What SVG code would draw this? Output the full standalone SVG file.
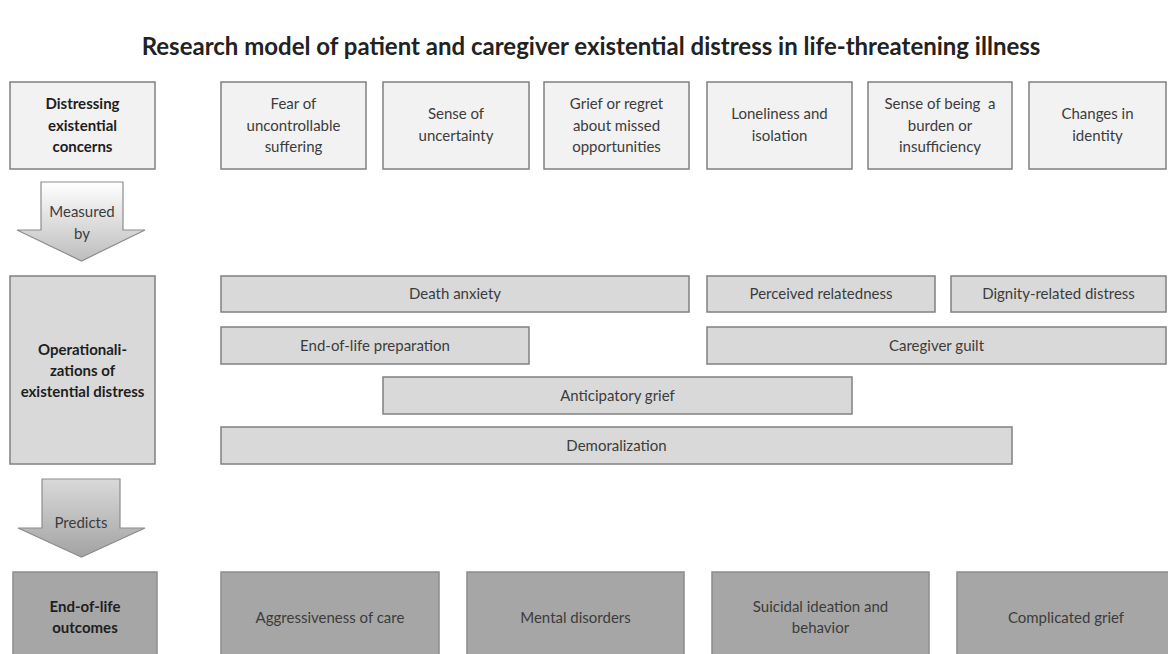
<svg xmlns="http://www.w3.org/2000/svg" width="1168" height="654" viewBox="0 0 1168 654">
<style>
text{font-family:Lato,"Liberation Sans",sans-serif;text-anchor:middle;font-size:15px;fill:#3c3c3c}
.title{font-size:24px;font-weight:bold;fill:#222}
.hd{font-weight:bold;fill:#1e1e1e}
.top{fill:#f2f2f2;stroke:#808080;stroke-width:1.5}
.mid{fill:#d9d9d9;stroke:#808080;stroke-width:1.5}
.bot{fill:#a6a6a6;stroke:#8c8c8c;stroke-width:1.5}
.arr{stroke:#8c8c8c;stroke-width:1.2}
.pre{white-space:pre}
</style>
<defs>
<linearGradient id="g1" x1="0" y1="0" x2="0" y2="1"><stop offset="0" stop-color="#ffffff"/><stop offset="1" stop-color="#bdbdbd"/></linearGradient>
<linearGradient id="g2" x1="0" y1="0" x2="0" y2="1"><stop offset="0" stop-color="#d9d9d9"/><stop offset="1" stop-color="#a3a3a3"/></linearGradient>
</defs>
<rect width="1168" height="654" fill="#ffffff"/>
<text class="title" x="591" y="55">Research model of patient and caregiver existential distress in life-threatening illness</text>

<g id="n-distressing"><rect class="top" x="10" y="82" width="145" height="87"/><text class="hd" x="82.5" y="109">Distressing</text><text class="hd" x="82.5" y="131">existential</text><text class="hd" x="82.5" y="152">concerns</text></g>
<g id="n-fear"><rect class="top" x="221" y="82" width="145" height="87"/><text x="293.5" y="109">Fear of</text><text x="293.5" y="131">uncontrollable</text><text x="293.5" y="152">suffering</text></g>
<g id="n-uncertainty"><rect class="top" x="383" y="82" width="146" height="87"/><text x="456" y="119">Sense of</text><text x="456" y="141">uncertainty</text></g>
<g id="n-grief"><rect class="top" x="544" y="82" width="145" height="87"/><text x="616.5" y="109">Grief or regret</text><text x="616.5" y="131">about missed</text><text x="616.5" y="152">opportunities</text></g>
<g id="n-loneliness"><rect class="top" x="707" y="82" width="145" height="87"/><text x="779.5" y="119">Loneliness and</text><text x="779.5" y="141">isolation</text></g>
<g id="n-burden"><rect class="top" x="868" y="82" width="144" height="87"/><text class="pre" x="940" y="109">Sense of being  a</text><text x="940" y="131">burden or</text><text x="940" y="152">insufficiency</text></g>
<g id="n-identity"><rect class="top" x="1029" y="82" width="137" height="87"/><text x="1097.5" y="119">Changes in</text><text x="1097.5" y="141">identity</text></g>

<g id="connectors">
<g id="arrow-measured"><polygon class="arr" fill="url(#g1)" points="41,182 123,182 123,230 145,230 81.5,261 17,230 41,230"/><text x="82" y="217">Measured</text><text x="82" y="239">by</text></g>
<g id="arrow-predicts"><polygon class="arr" fill="url(#g2)" points="42,479 120,479 120,528 145,528 81.5,557 18,528 42,528"/><text x="81" y="528">Predicts</text></g>
</g>

<g id="n-operational"><rect class="mid" x="10" y="276" width="145" height="188"/><text class="hd" x="82.5" y="355">Operationali-</text><text class="hd" x="82.5" y="376">zations of</text><text class="hd" x="82.5" y="397">existential distress</text></g>
<g id="n-death"><rect class="mid" x="221" y="276" width="468" height="36"/><text x="455" y="299">Death anxiety</text></g>
<g id="n-related"><rect class="mid" x="707" y="276" width="228" height="36"/><text x="821" y="299">Perceived relatedness</text></g>
<g id="n-dignity"><rect class="mid" x="951" y="276" width="215" height="36"/><text x="1058.5" y="299">Dignity-related distress</text></g>
<g id="n-eol"><rect class="mid" x="221" y="327" width="308" height="37"/><text x="375" y="351">End-of-life preparation</text></g>
<g id="n-guilt"><rect class="mid" x="707" y="327" width="459" height="37"/><text x="936.5" y="351">Caregiver guilt</text></g>
<g id="n-anticip"><rect class="mid" x="383" y="377" width="469" height="37"/><text x="617.5" y="401">Anticipatory grief</text></g>
<g id="n-demoral"><rect class="mid" x="221" y="427" width="791" height="37"/><text x="616.5" y="451">Demoralization</text></g>

<g id="n-outcomes"><rect class="bot" x="13" y="572" width="144" height="90"/><text class="hd" x="85" y="612">End-of-life</text><text class="hd" x="85" y="633">outcomes</text></g>
<g id="n-aggr"><rect class="bot" x="221" y="572" width="218" height="90"/><text x="330" y="623">Aggressiveness of care</text></g>
<g id="n-mental"><rect class="bot" x="467" y="572" width="217" height="90"/><text x="575.5" y="623">Mental disorders</text></g>
<g id="n-suicidal"><rect class="bot" x="712" y="572" width="217" height="90"/><text x="820.5" y="612">Suicidal ideation and</text><text x="820.5" y="633">behavior</text></g>
<g id="n-complicated"><rect class="bot" x="957" y="572" width="218" height="90"/><text x="1066" y="623">Complicated grief</text></g>
</svg>
